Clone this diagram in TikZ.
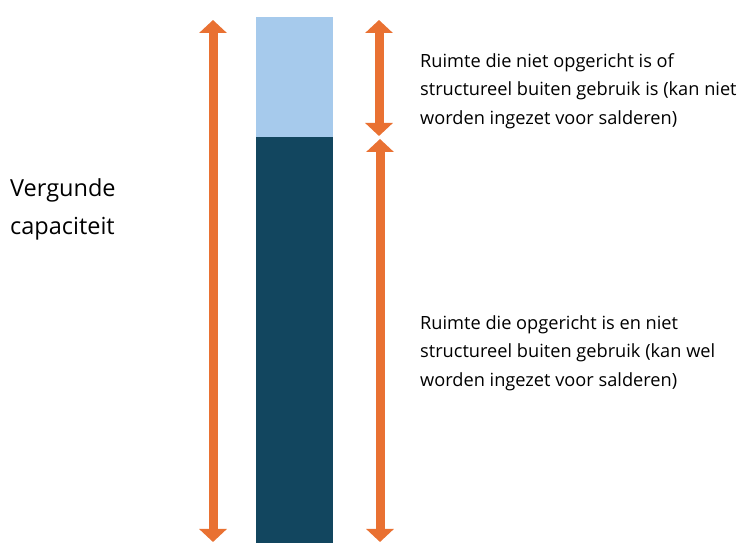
\documentclass[tikz,border=0pt]{standalone}
\usepackage{fontspec}
\setmainfont{Open Sans}
\usetikzlibrary{arrows.meta,positioning}
\definecolor{lightbar}{HTML}{A6CAEC}
\definecolor{darkbar}{HTML}{12465F}
\definecolor{spanorange}{HTML}{E97132}

\begin{document}
\begin{tikzpicture}[
  x=1pt,y=1pt,
  bar/.style={minimum width=77pt,inner sep=0pt,outer sep=0pt},
  span/.style={draw=spanorange,line width=9pt,
               {Triangle[width=27pt,length=13pt]}-{Triangle[width=27pt,length=13pt]}},
  note/.style={font=\fontsize{18.2}{28.5}\selectfont,align=left,anchor=west,inner sep=0pt}
]
\useasboundingbox (0,0) rectangle (747,553);
% the bar
\node[bar,fill=lightbar,minimum height=120pt,anchor=north] (free) at (294.5,536) {};
\node[bar,fill=darkbar,minimum height=406pt,below=0pt of free] (built) {};
% spans
\coordinate (ltop) at (213,533);
\coordinate (lbot) at (213,11);
\coordinate (rtop) at (379,533);
\coordinate (rmid) at (379,417);
\coordinate (rmid2) at (380,414);
\coordinate (rbot) at (380,11);
\draw[span] (ltop) -- (lbot);
\draw[span] (rtop) -- (rmid);
\draw[span] (rmid2) -- (rbot);
% labels
\node[note,font=\fontsize{23.5}{38}\selectfont] (permit) at (10,344) {Vergunde\\capaciteit};
\node[note] (unused) at (420,462)
  {Ruimte die niet opgericht is of\\structureel buiten gebruik is (kan niet\\worden ingezet voor salderen)};
\node[note] (used) at (420,200)
  {Ruimte die opgericht is en niet\\structureel buiten gebruik (kan wel\\worden ingezet voor salderen)};
\end{tikzpicture}
\end{document}
